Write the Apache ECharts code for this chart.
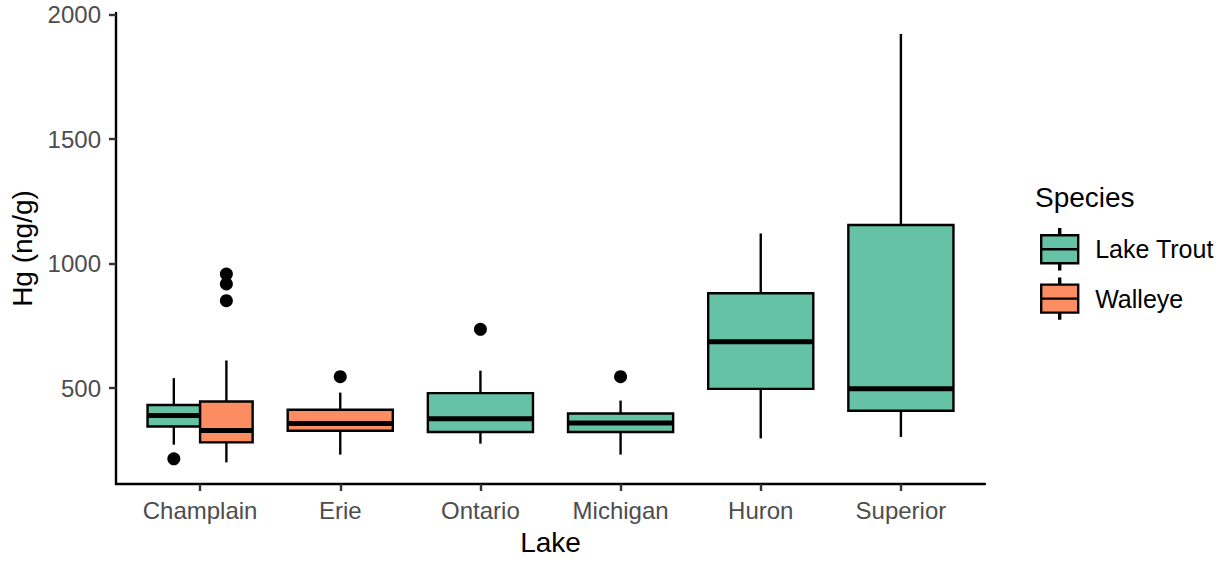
<!DOCTYPE html>
<html>
<head>
<meta charset="utf-8">
<script src="https://cdn.jsdelivr.net/npm/echarts@6/dist/echarts.min.js"></script>
<style>
html,body{margin:0;padding:0;background:#fff;}
#chart{width:1223px;height:562px;}
</style>
</head>
<body>
<div id="chart"></div>
<script>
// ---- data ----
const lakes = ['Champlain', 'Erie', 'Ontario', 'Michigan', 'Huron', 'Superior'];
const speciesNames = ['Lake Trout', 'Walleye'];
const speciesColors = ['#66C2A5', '#FC8D62'];
// [lower whisker, Q1, median, Q3, upper whisker]; null = species not sampled
const troutStats = [
  [273, 346, 390, 432, 540],
  null,
  [277, 324, 377, 480, 570],
  [233, 324, 360, 398, 450],
  [298, 497, 686, 881, 1121],
  [304, 409, 497, 1155, 1922]
];
const walleyeStats = [
  [202, 282, 330, 446, 611],
  [233, 329, 358, 413, 482],
  null, null, null, null
];
const troutOutliers = [[216], [], [736], [546], [], []];
const walleyeOutliers = [[958, 918, 851], [546], [], [], [], []];
const yTicks = [500, 1000, 1500, 2000];

// ---- build series data with ggplot-like dodging ----
const allStats = [troutStats, walleyeStats];
const allOut = [troutOutliers, walleyeOutliers];
const boxData = [[], []];
const outData = [[], []];
lakes.forEach((lake, i) => {
  const present = allStats.map(s => s[i] !== null);
  const n = present.filter(Boolean).length;
  let k = 0;
  allStats.forEach((s, si) => {
    if (!present[si]) return;
    const w = 0.75 / n;
    const x = (i + 1) - 0.375 + w * (k + 0.5);
    k++;
    boxData[si].push([x].concat(s[i]).concat([w]));
    allOut[si][i].forEach(v => outData[si].push([x, v]));
  });
});

function renderBox(params, api) {
  const x = api.value(0), w = api.value(6);
  const color = api.visual('color');
  const xl = api.coord([x - w / 2, 0])[0];
  const xr = api.coord([x + w / 2, 0])[0];
  const cx = api.coord([x, 0])[0];
  const yMin = api.coord([x, api.value(1)])[1];
  const yQ1 = api.coord([x, api.value(2)])[1];
  const yMed = api.coord([x, api.value(3)])[1];
  const yQ3 = api.coord([x, api.value(4)])[1];
  const yMax = api.coord([x, api.value(5)])[1];
  const ls = {stroke: '#000', lineWidth: 2.4, fill: null};
  return {
    type: 'group',
    children: [
      {type: 'line', shape: {x1: cx, y1: yMax, x2: cx, y2: yQ3}, style: ls},
      {type: 'line', shape: {x1: cx, y1: yQ1, x2: cx, y2: yMin}, style: ls},
      {type: 'rect', shape: {x: xl, y: yQ3, width: xr - xl, height: yQ1 - yQ3},
        style: {fill: color, stroke: '#000', lineWidth: 2.4}},
      {type: 'line', shape: {x1: xl, y1: yMed, x2: xr, y2: yMed}, style: {stroke: '#000', lineWidth: 5, fill: null}}
    ]
  };
}

const FONT = "'Liberation Sans', Arial, sans-serif";
const series = [];
speciesNames.forEach((name, si) => {
  series.push({
    type: 'custom', name: name, renderItem: renderBox,
    itemStyle: {color: speciesColors[si]},
    encode: {x: 0, y: [1, 2, 3, 4, 5]},
    data: boxData[si], clip: false, z: 2
  });
});
speciesNames.forEach((name, si) => {
  series.push({
    type: 'scatter', name: name + ' outliers',
    data: outData[si], symbolSize: 13,
    itemStyle: {color: '#000', opacity: 1}, z: 3, silent: true
  });
});

const legendIcon = 'path://M0,6 L37,6 L37,20 L0,20 Z M0,20 L37,20 L37,34 L0,34 Z M18,0 L19,0 L19,6 L18,6 Z M18,34 L19,34 L19,40 L18,40 Z';

const chart = echarts.init(document.getElementById('chart'), null, {renderer: 'svg'});
chart.setOption({
  animation: false,
  backgroundColor: '#fff',
  textStyle: {fontFamily: FONT},
  title: {
    text: 'Species', left: 1030, top: 178,
    textStyle: {fontSize: 28, fontWeight: 'normal', color: '#000', fontFamily: FONT}
  },
  legend: {
    data: speciesNames,
    orient: 'vertical', left: 1035, top: 223,
    itemWidth: 37, itemHeight: 40, itemGap: 7,
    icon: legendIcon,
    itemStyle: {borderColor: '#000', borderWidth: 2.4},
    textStyle: {fontSize: 25, color: '#000', fontFamily: FONT, padding: [0, 0, 0, 12]}
  },
  grid: {left: 116, right: 238, top: 13, bottom: 78, containLabel: false},
  xAxis: {
    type: 'value', min: 0.4, max: 6.6,
    name: 'Lake', nameLocation: 'middle', nameGap: 44,
    nameTextStyle: {fontSize: 28, color: '#000', fontFamily: FONT},
    axisLine: {show: true, onZero: false, lineStyle: {color: '#000', width: 2.4}},
    axisTick: {show: true, length: 7, lineStyle: {color: '#333', width: 2.4}, customValues: [1, 2, 3, 4, 5, 6]},
    axisLabel: {
      customValues: [1, 2, 3, 4, 5, 6], margin: 14,
      fontSize: 24, color: '#4D4D4D', fontFamily: FONT,
      formatter: v => lakes[Math.round(v) - 1] || ''
    },
    splitLine: {show: false}
  },
  yAxis: {
    type: 'value', min: 115, max: 2006,
    name: 'Hg (ng/g)', nameLocation: 'middle', nameGap: 76, nameRotate: 90,
    nameTextStyle: {fontSize: 28, color: '#000', fontFamily: FONT},
    axisLine: {show: true, onZero: false, lineStyle: {color: '#000', width: 2.4}},
    axisTick: {show: true, length: 7, lineStyle: {color: '#333', width: 2.4}, customValues: yTicks},
    axisLabel: {customValues: yTicks, margin: 15, fontSize: 24, color: '#4D4D4D', fontFamily: FONT,
      formatter: v => String(v)},
    splitLine: {show: false}
  },
  series: series
});
</script>
</body>
</html>
